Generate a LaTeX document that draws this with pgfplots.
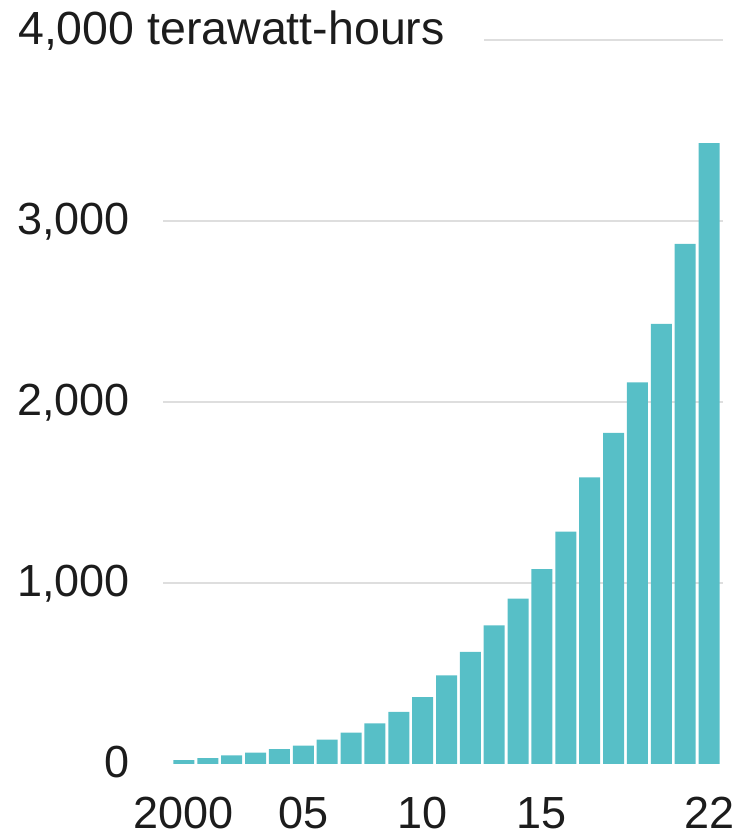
\documentclass[border=0pt]{standalone}
\usepackage{pgfplots}
\pgfplotsset{compat=1.18}
\usepackage{fontspec}
\setmainfont{Liberation Sans}
\definecolor{barteal}{RGB}{87,191,199}
\definecolor{gridgray}{RGB}{222,222,222}
\definecolor{labelink}{RGB}{28,28,28}

% Wind and solar electricity generation, terawatt-hours
\pgfplotstableread{
idx year twh
0  2000 22
1  2001 33
2  2002 47
3  2003 63
4  2004 82
5  2005 102
6  2006 134
7  2007 173
8  2008 224
9  2009 288
10 2010 369
11 2011 490
12 2012 620
13 2013 766
14 2014 913
15 2015 1077
16 2016 1284
17 2017 1584
18 2018 1830
19 2019 2108
20 2020 2432
21 2021 2873
22 2022 3430
}\gentable

\begin{document}
\begin{tikzpicture}[x=1pt,y=1pt]
\path[use as bounding box] (0,0) rectangle (741,837);
\begin{axis}[
  at={(163pt,73pt)}, anchor=south west,
  scale only axis, width=560pt, height=724pt,
  xmin=-0.877, xmax=22.584,
  ymin=0, ymax=4000,
  axis line style={draw=none},
  tick style={draw=none},
  major tick length=0pt,
  ymajorgrids,
  grid style={gridgray, line width=1.8pt},
  ytick={1000,2000,3000}, yticklabels={{1,000},{2,000},{3,000}},
  extra y ticks={0}, extra y tick labels={0},
  extra y tick style={grid=none},
  xtick={0,5,10,15,22}, xticklabels={2000,05,10,15,22},
  /pgf/number format/assume math mode=true,
  ticklabel style={font=\fontsize{45}{50}\selectfont, text=labelink, inner sep=0pt},
  yticklabel style={anchor=base east, xshift=-33pt, yshift=-13.5pt},
  xticklabel style={anchor=base, yshift=-64pt},
  clip=false,
]
\addplot[ybar, bar width=21pt, fill=barteal, draw=none] table[x=idx, y=twh] {\gentable};
\end{axis}
% top gridline beside the unit label
\draw[gridgray, line width=1.8pt] (484,797) -- (723,797);
\node[anchor=base west, inner sep=0pt, text=labelink, font=\fontsize{46.5}{52}\selectfont] at (18,792) {4,000 terawatt-hours};
\end{tikzpicture}
\end{document}
